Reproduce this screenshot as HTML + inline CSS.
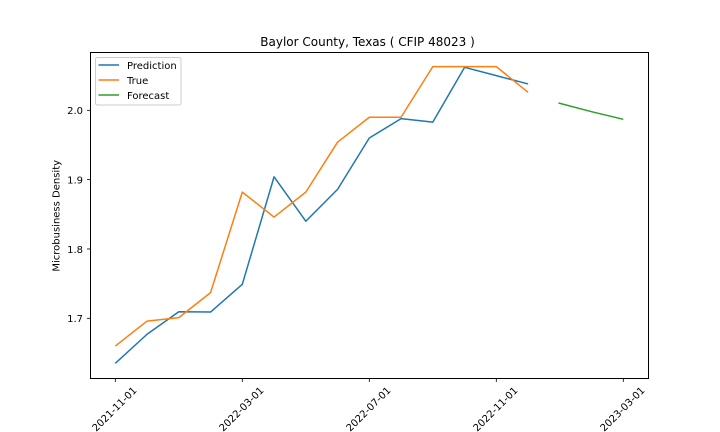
<!DOCTYPE html>
<html>
<head>
<meta charset="utf-8">
<style>
html,body{margin:0;padding:0;background:#fff;}
svg{display:block;}
text{font-family:"DejaVu Sans",sans-serif;font-size:10px;fill:#000;}
</style>
</head>
<body>
<svg id="chart" xmlns="http://www.w3.org/2000/svg" width="720" height="432" viewBox="0 0 720 432">
  <rect x="0" y="0" width="720" height="432" fill="#fff"/>
  <text x="367.5" y="46" text-anchor="middle" style="font-size:12px">Baylor County, Texas ( CFIP 48023 )</text>
  <text x="0" y="0" text-anchor="middle" transform="translate(59.6 215.8) rotate(-90)">Microbusiness Density</text>
  <g id="ticks"></g>
  <g id="series"></g>
  <rect x="90.5" y="52.5" width="558" height="326" fill="none" stroke="#000" stroke-width="1"/>
  <g>
    <rect x="95.5" y="57.5" width="85.5" height="47.5" rx="2" fill="#fff" fill-opacity="0.8" stroke="#ccc" stroke-width="1"/>
    <g>
      <line x1="98.5" x2="119" y1="65" y2="65" stroke="#1f77b4" stroke-width="1.5"/>
      <text x="127" y="69">Prediction</text>
    </g>
    <g>
      <line x1="98.5" x2="119" y1="80" y2="80" stroke="#ff7f0e" stroke-width="1.5"/>
      <text x="127" y="84">True</text>
    </g>
    <g>
      <line x1="98.5" x2="119" y1="95" y2="95" stroke="#2ca02c" stroke-width="1.5"/>
      <text x="127" y="99">Forecast</text>
    </g>
  </g>
</svg>
<script>
const months = ['2021-11-01','2021-12-01','2022-01-01','2022-02-01','2022-03-01','2022-04-01','2022-05-01','2022-06-01','2022-07-01','2022-08-01','2022-09-01','2022-10-01','2022-11-01','2022-12-01','2023-01-01','2023-02-01','2023-03-01'];
const xTickLabels = ['2021-11-01','2022-03-01','2022-07-01','2022-11-01','2023-03-01'];
const yTickValues = [1.7,1.8,1.9,2.0];
const yTickLabels = ['1.7','1.8','1.9','2.0'];
const predictionValues = [1.635,1.677,1.7095,1.709,1.749,1.904,1.840,1.886,1.960,1.988,1.983,2.062,2.050,2.038];
const trueValues = [1.660,1.696,1.701,1.737,1.882,1.846,1.882,1.954,1.990,1.990,2.063,2.063,2.063,2.026];
const forecastMonthIndex = [13.96,15,16];
const forecastValues = [2.0105,1.998,1.987];

const NS = 'http://www.w3.org/2000/svg';
function xScale(monthIndex) {
  return 115.3 + monthIndex * 31.75;
}
function yScale(v) {
  return 318.3 - (v - 1.7) * 693.3;
}
const tickGroup = document.getElementById('ticks');
const seriesGroup = document.getElementById('series');

xTickLabels.forEach(function (label) {
  const x = xScale(months.indexOf(label));
  const tick = document.createElementNS(NS, 'line');
  
  
  tick.setAttribute('x1', x);
  tick.setAttribute('x2', x);
  tick.setAttribute('y1', 378.5);
  tick.setAttribute('y2', 382);
  tick.setAttribute('stroke', '#000');
  tick.setAttribute('stroke-width', '0.8');
  tickGroup.appendChild(tick);
  const text = document.createElementNS(NS, 'text');
  
  
  text.setAttribute('text-anchor', 'middle');
  text.setAttribute('transform', 'translate(' + (x + 1.5) + ' 411.5) rotate(-45)');
  text.textContent = label;
  tickGroup.appendChild(text);
});

yTickValues.forEach(function (v, i) {
  const y = yScale(v);
  const tick = document.createElementNS(NS, 'line');
  
  
  tick.setAttribute('x1', 87);
  tick.setAttribute('x2', 90.5);
  tick.setAttribute('y1', y);
  tick.setAttribute('y2', y);
  tick.setAttribute('stroke', '#000');
  tick.setAttribute('stroke-width', '0.8');
  tickGroup.appendChild(tick);
  const text = document.createElementNS(NS, 'text');
  
  
  text.setAttribute('x', 83);
  text.setAttribute('y', y + 3.8);
  text.setAttribute('text-anchor', 'end');
  text.textContent = yTickLabels[i];
  tickGroup.appendChild(text);
});

function drawSeries(indexes, values, color, name) {
  const pts = values.map(function (v, i) {
    return xScale(indexes[i]).toFixed(2) + ',' + yScale(v).toFixed(2);
  });
  const line = document.createElementNS(NS, 'polyline');
  
  
  line.setAttribute('points', pts.join(' '));
  line.setAttribute('fill', 'none');
  line.setAttribute('stroke', color);
  line.setAttribute('stroke-width', '1.5');
  line.setAttribute('stroke-linejoin', 'round');
  seriesGroup.appendChild(line);
}
const historyIndex = predictionValues.map(function (v, i) { return i; });
drawSeries(historyIndex, predictionValues, '#1f77b4', 'prediction-line');
drawSeries(historyIndex, trueValues, '#ff7f0e', 'true-line');
drawSeries(forecastMonthIndex, forecastValues, '#2ca02c', 'forecast-line');
</script>
</body>
</html>
